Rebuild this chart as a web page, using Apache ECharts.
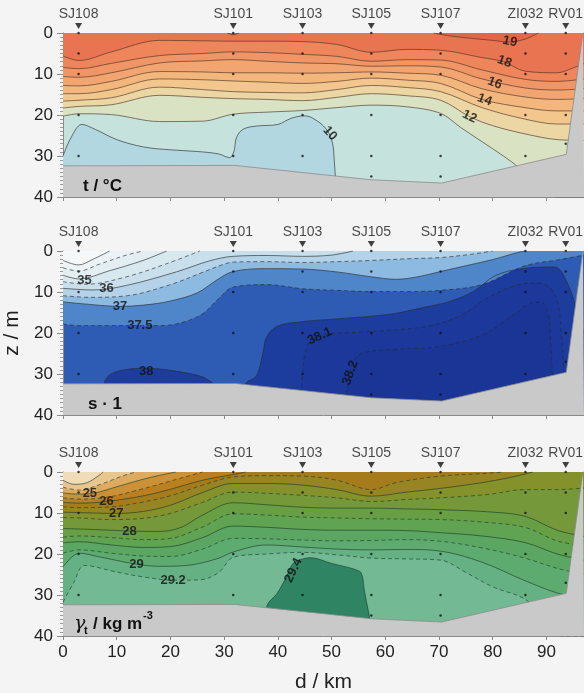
<!DOCTYPE html>
<html>
<head>
<meta charset="utf-8">
<script src="https://cdn.jsdelivr.net/npm/echarts@6/dist/echarts.min.js"></script>
<style>
  html, body { margin: 0; padding: 0; background: #f3f4f3; }
  #section { width: 584px; height: 693px; }
</style>
</head>
<body>
<div id="section"></div>
<script>
// stations along the section (distance in km) and sampled depths (m)
var stationNames = ['SJ108', 'SJ101', 'SJ103', 'SJ105', 'SJ107', 'ZI032', 'RV01'];
var stationKm = [2.9, 31.7, 44.6, 57.4, 70.3, 86.1, 93.6];
var sampleDepths = [
  [0, 5, 10, 20, 30], [0, 5, 10, 20, 30], [0, 5, 10, 20, 30],
  [0, 5, 10, 20, 30, 35], [0, 5, 10, 20, 30, 35], [0, 5, 10, 20, 30], [0, 5, 10, 20, 27]
];
// sea floor / end of section [km, m]
var seabed = [[0, 32.4], [32, 32.3], [57.4, 35.8], [70.5, 36.6], [93.7, 29.6], [96.8, 0], [97, 0]];

// ---- temperature isolines [km, m] ----
var t10 = [[0, 30], [1.5, 25.5], [3.5, 22.3], [6, 23.5], [10, 26], [15, 27.8], [20, 28.5], [25, 28.9], [29, 29.5], [31, 30.4], [31.8, 29], [32.3, 25.5], [33.5, 23.5], [36, 22.7], [40, 22.3], [42.5, 20.8], [45, 20.2], [47.5, 21.6], [49.3, 24], [50.2, 27], [50.5, 31], [50.7, 35], [51, 40]];
var t11 = [[0, 20.3], [3, 19.7], [9, 19.9], [18, 21.6], [26, 21.5], [31.7, 19.8], [38, 19.3], [44.6, 18.9], [51, 18.2], [57.4, 17.6], [64, 18.0], [70.3, 19.6], [74, 23], [78, 26.5], [82, 30], [85, 33], [88, 37], [92, 40], [97, 40]];
var t12 = [[0, 18.3], [3, 17.9], [9, 17.5], [18, 15.2], [26, 15.7], [31.7, 16.0], [38, 16.2], [44.6, 16.5], [51, 15.7], [57.4, 14.8], [64, 15.3], [70.3, 16.4], [75.7, 20.4], [80, 22.6], [86, 24.6], [92, 26.0], [97, 26.2]];
var t13 = [[0, 16.6], [3, 16.4], [9, 15.8], [18, 13.2], [26, 13.8], [31.7, 14.3], [38, 14.5], [44.6, 14.6], [51, 13.8], [57.4, 12.8], [64, 13.3], [70.3, 14.3], [78, 18.2], [86, 21.0], [92, 22.2], [97, 22.2]];
var t14 = [[0, 14.8], [3, 14.8], [9, 13.8], [18, 11.2], [26, 11.4], [31.7, 11.7], [38, 12.0], [44.6, 12.3], [51, 11.8], [57.4, 11.0], [64, 11.5], [70.3, 12.3], [78, 16.2], [86, 18.2], [92, 19.0], [97, 19.0]];
var t15 = [[0, 12.8], [3, 12.9], [9, 11.8], [18, 9.4], [26, 9.5], [31.7, 9.7], [38, 9.7], [44.6, 9.8], [51, 9.7], [57.4, 9.5], [64, 9.8], [70.3, 10.3], [78, 13.6], [86, 15.6], [92, 16.2], [97, 16.0]];
var t16 = [[0, 10.6], [3, 10.8], [9, 9.7], [18, 7.3], [26, 6.8], [31.7, 6.5], [38, 6.9], [44.6, 7.3], [51, 7.5], [57.4, 8.1], [64, 8.0], [70.3, 8.3], [78, 11.2], [86, 13.4], [92, 13.9], [97, 13.6]];
var t17 = [[0, 8.4], [3, 8.7], [9, 7.4], [18, 5.5], [26, 5.0], [31.7, 4.6], [38, 4.8], [44.6, 5.2], [51, 5.7], [57.4, 6.9], [64, 6.5], [70.3, 6.6], [78, 9.0], [86, 11.3], [92, 11.8], [97, 11.2]];
var t18 = [[0, 5.6], [3, 6.7], [9, 4.6], [18, 1.8], [26, 1.9], [31.7, 2.0], [38, 2.0], [44.6, 2.1], [51, 2.8], [57.4, 4.7], [64, 4.0], [70.3, 4.2], [78, 6.0], [82, 7.0], [86, 9.3], [92, 9.7], [95, 8.5], [97, 7.5]];
var t19a = [[30.6, 0], [31.7, 0.45], [32.8, 0]];
var t19b = [[69, 0], [72, 0.7], [76, 1.3], [80, 1.8], [83, 2.2], [86, 1.5], [88.5, 0]];
var tempLabels = [['19', 83.2, 2.1], ['18', 82.2, 7.0], ['16', 80.4, 12.2], ['14', 78.5, 16.3], ['12', 75.7, 20.4], ['10', 49.7, 24.5]];

// ---- salinity isolines ----
var s34 = [[0, 2.3], [2.9, 3.4], [5.6, 2.0], [8.7, 0]];
var s34_5 = [[0, 4.1], [2.9, 4.9], [6.8, 3.2], [11.8, 1.0], [14.9, 0]];
var s35 = [[0, 5.9], [2.9, 6.8], [8.7, 4.8], [14.9, 2.3], [19.3, 0]];
var s35_5 = [[0, 7.5], [4.3, 8.1], [11.8, 6.3], [19.3, 3.1], [25.5, 0]];
var s36 = [[0, 9.1], [5.6, 9.5], [11.8, 8.4], [21.1, 5.1], [27.3, 2.4], [31.7, 1.3], [38, 1.1], [44.6, 1.3], [50, 1.0], [54, 0]];
var s36_5 = [[0, 10.9], [5, 11.3], [12, 10.9], [20, 8.2], [26, 5.2], [30, 3.2], [31.7, 2.7], [38, 2.6], [44.6, 2.8], [51, 2.6], [57.4, 2.3], [64, 1.9], [70.3, 1.6], [76, 0.8], [80, 0]];
var s37 = [[0, 12.4], [3, 12.8], [10.6, 13.5], [15, 13.2], [20, 12.2], [25, 10.2], [28.5, 7.2], [31.7, 5.0], [38, 4.3], [44.6, 4.4], [51, 5.1], [57.4, 6.3], [62, 6.9], [66, 6.3], [70.3, 5.0], [76, 3.3], [80, 2.1], [84, 0.6], [86, 0]];
var s37_5 = [[0, 17.8], [3, 18.2], [9, 18.2], [14.3, 18.2], [18, 18.2], [22, 17.5], [26, 15.3], [29, 11.6], [31.7, 8.8], [38, 8.2], [44.6, 9.2], [51, 9.6], [57.4, 9.9], [64, 9.9], [70.3, 9.6], [78, 8.2], [86, 3.6], [92, 2.2], [97, 1.0]];
var s38west = [[7, 40], [7.6, 32.5], [8.8, 30.1], [11.8, 28.9], [15.5, 28.6], [20.5, 29.2], [25.5, 30.5], [27.3, 31.7], [28.3, 33], [29, 40]];
var s38east = [[33.5, 40], [34, 32.5], [36, 30.5], [37.2, 25], [37.9, 21], [39.8, 18.4], [44, 17.3], [51.6, 16.5], [61, 15.4], [67, 13.8], [72, 12.3], [76.5, 9.8], [80.5, 6.0], [85.5, 4.3], [91.5, 3.9], [93.8, 7.5], [95.7, 14.4], [97, 20]];
var s38_1 = [[44, 40], [44.6, 30], [45.5, 23], [47.8, 20.6], [55, 19.8], [62, 19.2], [68, 18.3], [74, 15.8], [79, 11.5], [84, 8.5], [88, 7.8], [90.5, 8.8], [92, 12], [92.8, 20], [93.2, 28], [93.5, 40]];
var s38_2 = [[52.5, 40], [53, 33], [53.7, 28], [55.5, 25], [62, 24], [70, 23.3], [78, 20.5], [84, 15.5], [87, 12.8], [89, 12.5], [90.3, 15], [90.8, 22], [91.1, 30], [91.4, 40]];
var salLabels = [['35', 4, 7.1], ['36', 8.1, 9.1], ['37', 10.6, 13.6], ['37.5', 14.3, 18.2], ['38', 15.5, 29.3], ['38.1', 47.8, 20.8], ['38.2', 53.5, 29.7]];

// ---- density (sigma-t) isolines ----
var g24 = [[0, 2.0], [2, 3.0], [4.5, 2.6], [7.5, 0]];
var g24_5 = [[0, 3.7], [3, 4.4], [7, 3.0], [11, 1.0], [13.5, 0]];
var g25 = [[0, 5.1], [3, 5.4], [6, 5.1], [10, 3.6], [16, 1.4], [21, 0]];
var g25_5 = [[0, 6.3], [3, 6.6], [8, 6.2], [14, 4.4], [20, 2.2], [26, 0]];
var g26 = [[0, 7.4], [3, 7.6], [8.1, 7.2], [15, 5.8], [20, 4.2], [26, 2.0], [31.7, 0.6], [34, 0]];
var g26_5 = [[0, 8.5], [3, 8.7], [9, 8.5], [15, 7.3], [20, 5.8], [26, 3.2], [31.7, 1.2], [38, 0.9], [44.6, 1.0], [51, 2.0], [57.4, 4.3], [62, 2.6], [70.3, 1.0], [78, 0.4], [82, 0]];
var g27 = [[0, 9.8], [3, 9.9], [9.9, 10.1], [15, 9.6], [20, 8.1], [26, 5.0], [31.7, 2.8], [38, 2.8], [44.6, 3.2], [51, 4.3], [57.4, 5.9], [64, 4.9], [70.3, 4.0], [78, 2.6], [83, 1.4], [87.5, 0]];
var g27_5 = [[0, 11.1], [3, 11.2], [9, 11.6], [15, 11.3], [20, 10.1], [26, 7.4], [31.7, 4.9], [38, 5.2], [44.6, 5.7], [51, 6.3], [57.4, 7.2], [64, 6.7], [70.3, 6.3], [79, 5.5], [86, 4.3], [92, 4.3], [97, 3.9]];
var g28 = [[0, 13.8], [3, 13.9], [9, 14.2], [12.4, 14.4], [18, 14.5], [22, 13.5], [26, 10.5], [31.7, 7.5], [38, 8.0], [44.6, 8.6], [51, 8.8], [57.4, 8.8], [64, 9.0], [70.3, 9.2], [79, 9.7], [86, 10.8], [92, 14.2], [97, 15.7]];
var g28_25 = [[0, 15.9], [3, 15.6], [9, 16.0], [15, 16.5], [20, 16.2], [26, 13.4], [31.7, 10.2], [38, 10.5], [44.6, 11.0], [51, 11.2], [57.4, 11.4], [64, 11.5], [70.3, 11.6], [78, 12.2], [86, 13.5], [92, 16.8], [97, 18.0]];
var g28_5 = [[0, 17.3], [3, 17.0], [9, 17.8], [15, 18.4], [20, 18.2], [26, 16.0], [31.7, 13.2], [38, 13.5], [44.6, 14.0], [51, 14.2], [57.4, 14.2], [64, 14.3], [70.3, 14.8], [78, 15.6], [86, 17.2], [92, 20.0], [97, 21.5]];
var g28_75 = [[0, 19.8], [3, 19.0], [9, 19.8], [15, 20.5], [20, 20.6], [26, 18.8], [31.7, 16.2], [38, 16.3], [44.6, 16.6], [51, 16.8], [57.4, 16.7], [64, 16.5], [70.3, 16.9], [78, 18.5], [86, 21.0], [92, 23.5], [97, 25.0]];
var g29 = [[0, 23.2], [3, 19.8], [6.8, 20.7], [13.7, 22.5], [18, 23.0], [23, 22.8], [28.6, 21.2], [31.7, 19.5], [37.9, 17.8], [44.6, 18.3], [51, 18.8], [57.4, 19.0], [64, 18.9], [70.3, 19.3], [78, 22.0], [86, 26.5], [92, 29.5], [97, 31.0]];
var g29_2 = [[0, 31.7], [2, 27], [4, 22.8], [10, 24.4], [15, 25.6], [20.5, 26.4], [25.5, 26.3], [29, 24.5], [31.7, 20.8], [38, 20.0], [44.6, 19.6], [51, 20.2], [57.4, 21.0], [64, 21.2], [70.3, 21.5], [75, 24.5], [80, 28], [86, 31], [90, 36], [93, 40], [97, 40]];
var g29_4 = [[37.5, 40], [38, 32.6], [39.8, 29.7], [41.6, 25.6], [42.9, 22.2], [44.7, 21.2], [46, 20.9], [50, 22.3], [55.2, 24.2], [55.8, 25.8], [56, 28], [56.4, 31], [57, 35], [57.5, 40]];
var denLabels = [['25', 5, 5.2], ['26', 8.1, 7.2], ['27', 9.9, 10.1], ['28', 12.4, 14.4], ['29', 13.7, 22.5], ['29.2', 20.5, 26.4], ['29.4', 42.9, 24]];

// ---- styles ----
var tempLines = [t11, t12, t13, t14, t15, t16, t17, t18];
var tempFills = ['#d9e2c2', '#ecd6a4', '#f2c68c', '#f3b67d', '#f2a570', '#f09565', '#ee855b', '#e97451'];
var salLines = [s37_5, s37, s36_5, s36, s35_5, s35, s34_5, s34];
var salFills = ['#4f86c9', '#8dbae0', '#b4d2e8', '#c9dfeb', '#d8e8ef', '#e3eef3', '#ecf3f6', '#f4f8f9'];
var salDashed = [true, false, true, false, true, false, true, false];
var denLines = [g29_2, g29, g28_75, g28_5, g28_25, g28, g27_5, g27, g26_5, g26, g25_5, g25, g24_5, g24];
var denFills = ['#66b184', '#5eab70', '#5ba662', '#60a352', '#689f45', '#75993a', '#85912b', '#968522', '#a67b1c', '#bb7f1f', '#cc9136', '#dcab5f', '#e8c690', '#f1dcb9'];
var denDashed = [true, false, true, false, true, false, true, false, true, false, true, false, true, false];
var tempRot = [-12, -20, -20, -20, -25, -48];
var salRot = [0, 0, 0, 0, 0, 25, 70];
var denRot = [0, 0, 0, 0, 0, 0, 65];
var panelTops = [33, 251, 472];
var panelBg = ['#c5e2dc', '#2e5cb4', '#72b994'];

function draw_section() {
  var dom = document.getElementById('section');
  var myChart = echarts.init(dom, null, { renderer: 'canvas' });
  var font = 'Liberation Sans';

  function contour(gi, pts, fill, dashed, origin, lineColor) {
    return {
      type: 'line', xAxisIndex: gi, yAxisIndex: gi, data: pts, z: 2,
      smooth: 0.35, symbol: 'none', silent: true,
      lineStyle: { color: lineColor || '#2a2a2a', width: 0.8, opacity: 0.8, type: dashed ? [4, 3] : 'solid' },
      areaStyle: { color: fill, opacity: 1, origin: origin }
    };
  }

  function decorations(gi, labels, rots) {
    var dots = [];
    stationKm.forEach(function (d, i) {
      sampleDepths[i].forEach(function (z) { dots.push([d, z]); });
    });
    return [
      {
        // sea floor, on top of every isoline
        type: 'line', xAxisIndex: gi, yAxisIndex: gi, data: seabed, smooth: false, z: 3,
        symbol: 'none', silent: true,
        lineStyle: { color: '#8c8c8c', width: 0.8 },
        areaStyle: { color: '#c9c9c9', opacity: 1, origin: 40 }
      },
      {
        type: 'scatter', xAxisIndex: gi, yAxisIndex: gi, data: dots, z: 4,
        symbolSize: 2.5, itemStyle: { color: '#111' }, silent: true
      },
      {
        type: 'scatter', xAxisIndex: gi, yAxisIndex: gi, clip: false, silent: true, z: 4,
        data: stationKm.map(function (d, i) { return { value: [d, 0], name: stationNames[i] }; }),
        symbol: 'triangle', symbolRotate: 180, symbolSize: [7, 6], symbolOffset: [0, -7],
        itemStyle: { color: '#111' },
        label: { show: true, position: 'top', distance: 2, formatter: '{b}', fontSize: 14, color: '#1a1a1a', fontFamily: font }
      },
      {
        type: 'scatter', xAxisIndex: gi, yAxisIndex: gi, silent: true, z: 5,
        symbolSize: 1, itemStyle: { color: 'rgba(0,0,0,0)' },
        data: labels.map(function (l, i) {
          return { value: [l[1], l[2]], name: l[0], label: { rotate: rots[i] } };
        }),
        label: { show: true, position: 'inside', formatter: '{b}', fontSize: 13, fontWeight: 'bold', color: '#111', fontFamily: font }
      }
    ];
  }

  var series = [];
  // temperature
  series.push(contour(0, t10, '#b3d7e1', false, 40));
  tempLines.forEach(function (pts, i) { series.push(contour(0, pts, tempFills[i], false, 0, '#4a3328')); });
  series.push(contour(0, t19a, '#e4664a', false, 0, '#4a3328'));
  series.push(contour(0, t19b, '#e4664a', false, 0, '#4a3328'));
  series = series.concat(decorations(0, tempLabels, tempRot));
  // salinity
  series.push(contour(1, s38west, '#1c3c9e', false, 40));
  series.push(contour(1, s38east, '#1c3c9e', false, 40));
  series.push(contour(1, s38_1, '#1b389a', true, 40));
  series.push(contour(1, s38_2, '#1a3596', true, 40));
  salLines.forEach(function (pts, i) { series.push(contour(1, pts, salFills[i], salDashed[i], 0)); });
  series = series.concat(decorations(1, salLabels, salRot));
  // density
  series.push(contour(2, g29_4, '#2f8463', false, 40, '#1d3d2a'));
  denLines.forEach(function (pts, i) { series.push(contour(2, pts, denFills[i], denDashed[i], 0, '#1d3d2a')); });
  series = series.concat(decorations(2, denLabels, denRot));

  var grids = [], xAxes = [], yAxes = [];
  panelTops.forEach(function (top, gi) {
    grids.push({
      left: 63, right: 0, top: top, height: 164, outerBoundsMode: 'none',
      show: true, borderWidth: 0, backgroundColor: panelBg[gi]
    });
    xAxes.push({
      type: 'value', gridIndex: gi, min: 0, max: 97, interval: 10,
      axisLine: { onZero: false, lineStyle: { color: '#8a8a8a' } },
      axisTick: { length: 4, lineStyle: { color: '#8a8a8a' } },
      axisLabel: { show: gi === 2, showMaxLabel: false, fontSize: 17, color: '#222', margin: 8, fontFamily: font },
      splitLine: { show: false },
      name: gi === 2 ? 'd / km' : '', nameLocation: 'middle', nameGap: 36,
      nameTextStyle: { fontSize: 21, color: '#222', fontFamily: font }
    });
    yAxes.push({
      type: 'value', gridIndex: gi, inverse: true, min: 0, max: 40, interval: 10,
      axisLine: { onZero: false, lineStyle: { color: '#8a8a8a' } },
      axisTick: { length: 6, lineStyle: { color: '#8a8a8a' } },
      minorTick: { show: true, splitNumber: 10, length: 3, lineStyle: { color: '#9a9a9a' } },
      minorSplitLine: { show: false },
      axisLabel: { fontSize: 17, color: '#222', margin: 10, fontFamily: font },
      splitLine: { show: false },
      name: gi === 1 ? 'z / m' : '', nameLocation: 'middle', nameGap: 31, nameRotate: 90,
      nameTextStyle: { fontSize: 21, color: '#222', fontFamily: font }
    });
  });

  var option = {
    animation: false,
    backgroundColor: '#f3f4f3',
    textStyle: { fontFamily: font },
    grid: grids,
    xAxis: xAxes,
    yAxis: yAxes,
    series: series,
    graphic: [
      { type: 'text', left: 83, top: 178, z: 100, style: { text: 't / °C', font: 'bold 17px "Liberation Sans"', fill: '#111' } },
      { type: 'text', left: 88, top: 396, z: 100, style: { text: 's · 1', font: 'bold 17px "Liberation Sans"', fill: '#111' } },
      { type: 'text', left: 74, top: 615, z: 100, style: { text: 'γ', font: 'italic 19px "DejaVu Serif"', fill: '#111' } },
      { type: 'text', left: 84, top: 625, z: 100, style: { text: 't', font: 'bold 11px "Liberation Sans"', fill: '#111' } },
      { type: 'text', left: 93, top: 616, z: 100, style: { text: '/ kg m', font: 'bold 17px "Liberation Sans"', fill: '#111' } },
      { type: 'text', left: 143, top: 610, z: 100, style: { text: '-3', font: 'bold 11px "Liberation Sans"', fill: '#111' } }
    ]
  };

  if (option && typeof option === 'object') {
    myChart.setOption(option);
  }
  window.addEventListener('resize', myChart.resize);
}

draw_section();
</script>
</body>
</html>
